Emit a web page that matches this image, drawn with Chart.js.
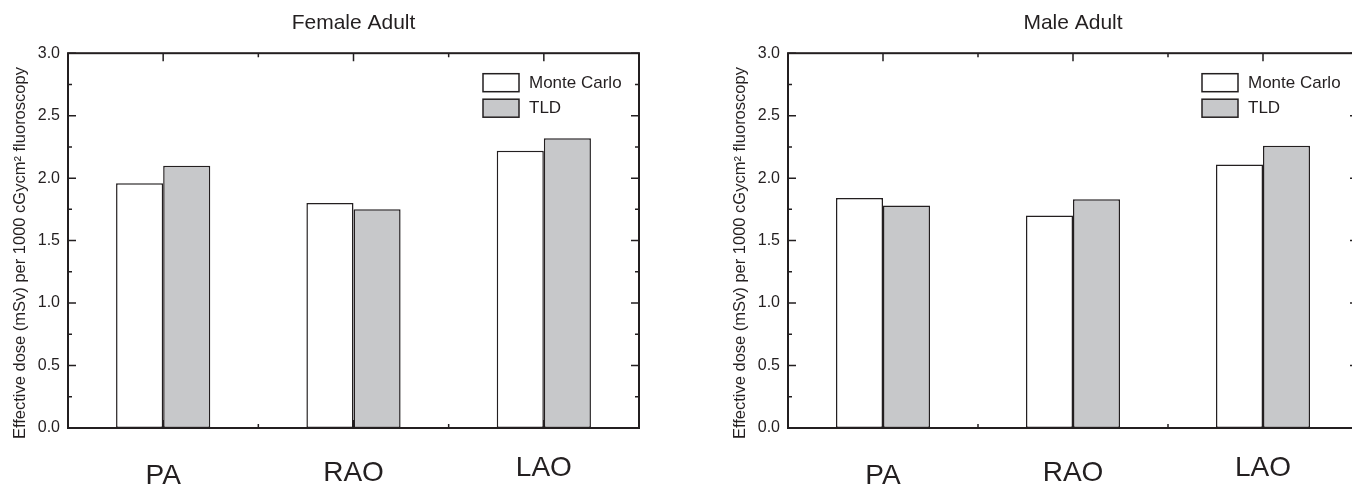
<!DOCTYPE html>
<html>
<head>
<meta charset="utf-8">
<script src="https://cdn.jsdelivr.net/npm/chart.js@4.4.1/dist/chart.umd.min.js"></script>
<style>
  html, body { margin: 0; padding: 0; background: #fff; overflow: hidden; width: 1352px; height: 486px; }
  .box { position: absolute; top: 0; height: 486px; }
  #femaleBox { left: 0; width: 676px; }
  #maleBox { left: 676px; width: 700px; }
</style>
</head>
<body>
<div class="box" id="femaleBox"><canvas id="chartFemale"></canvas></div>
<div class="box" id="maleBox"><canvas id="chartMale"></canvas></div>
<script>
// Datos
const categories = ["PA", "RAO", "LAO"];
const seriesNames = ["Monte Carlo", "TLD"];
const femaleMonteCarlo = [1.96, 1.80, 2.22];
const femaleTLD = [2.10, 1.75, 2.32];
const maleMonteCarlo = [1.84, 1.70, 2.11];
const maleTLD = [1.78, 1.83, 2.26];
const yMin = 0;
const yMax = 3;
const yStep = 0.5;
const yTitle = "Effective dose (mSv) per 1000 cGycm\u00B2 fluoroscopy";

const INK = "#231f20";
const GRAY = "#c7c8ca";
const FONT = "'Liberation Sans', Arial, sans-serif";

// desplazamiento vertical de cada etiqueta de categoría (como en la figura)
const labelDrop = [48, 45, 40];

function tickLine(ctx, x0, y0, x1, y1) {
    ctx.moveTo(x0, y0);
    ctx.lineTo(x1, y1);
}

// Marcas hacia adentro en los cuatro lados
function drawTicks(chart) {
    const { ctx, chartArea: a, scales: { x, y } } = chart;
    const major = 8, minor = 4;
    ctx.save();
    ctx.strokeStyle = INK;
    ctx.lineWidth = 1.5;
    ctx.beginPath();
    y.ticks.forEach((t, i) => {
        const py = y.getPixelForValue(t.value);
        tickLine(ctx, a.left, py, a.left + major, py);
        tickLine(ctx, a.right, py, a.right - major, py);
        if (i < y.ticks.length - 1) {
            const pm = y.getPixelForValue((t.value + y.ticks[i + 1].value) / 2);
            tickLine(ctx, a.left, pm, a.left + minor, pm);
            tickLine(ctx, a.right, pm, a.right - minor, pm);
        }
    });
    categories.forEach((c, i) => {
        const px = x.getPixelForValue(i);
        tickLine(ctx, px, a.top, px, a.top + major);
        tickLine(ctx, px, a.bottom, px, a.bottom - major);
        if (i > 0) {
            const pb = (x.getPixelForValue(i - 1) + px) / 2;
            tickLine(ctx, pb, a.top, pb, a.top + minor);
            tickLine(ctx, pb, a.bottom, pb, a.bottom - minor);
        }
    });
    ctx.stroke();
    ctx.restore();
}

function drawFrame(chart) {
    const { ctx, chartArea: a } = chart;
    ctx.save();
    ctx.strokeStyle = INK;
    ctx.lineWidth = 2;
    ctx.strokeRect(a.left, a.top, a.right - a.left, a.bottom - a.top);
    ctx.restore();
}

function drawLegend(chart) {
    const { ctx, chartArea: a } = chart;
    const bx = a.right - 156;
    const by = a.top + 20.5;
    ctx.save();
    chart.data.datasets.forEach((ds, i) => {
        const top = by + i * 25.5;
        ctx.fillStyle = ds.backgroundColor;
        ctx.fillRect(bx, top, 36, 18);
        ctx.strokeStyle = INK;
        ctx.lineWidth = 1.5;
        ctx.strokeRect(bx, top, 36, 18);
        ctx.fillStyle = INK;
        ctx.font = "17px " + FONT;
        ctx.textAlign = "left";
        ctx.textBaseline = "middle";
        ctx.fillText(ds.label, bx + 46, top + 9.5);
    });
    ctx.restore();
}

function drawCategoryLabels(chart) {
    const { ctx, chartArea: a, scales: { x } } = chart;
    ctx.save();
    ctx.fillStyle = INK;
    ctx.font = "28px " + FONT;
    ctx.textAlign = "center";
    ctx.textBaseline = "middle";
    categories.forEach((c, i) => {
        ctx.fillText(c, x.getPixelForValue(i), a.bottom + labelDrop[i]);
    });
    ctx.restore();
}

function drawYTitle(chart) {
    const { ctx, chartArea: a } = chart;
    ctx.save();
    ctx.translate(a.left - 47.5, (a.top + a.bottom) / 2 + 12.5);
    ctx.rotate(-Math.PI / 2);
    ctx.fillStyle = INK;
    ctx.font = "16.5px " + FONT;
    ctx.textAlign = "center";
    ctx.textBaseline = "middle";
    ctx.fillText(yTitle, 0, 0);
    ctx.restore();
}

const framePlugin = {
    id: "frame",
    beforeDatasetsDraw(chart) { drawTicks(chart); },
    afterDatasetsDraw(chart) {
        drawFrame(chart);
        drawLegend(chart);
        drawCategoryLabels(chart);
        drawYTitle(chart);
    }
};

function makeChart(canvasId, titulo, monteCarlo, tld, yWidth, padRight) {
    const ctx = document.getElementById(canvasId);
    return new Chart(ctx, {
        type: "bar",
        data: {
            labels: categories,
            datasets: [
                {
                    label: seriesNames[0],
                    data: monteCarlo,
                    backgroundColor: "#ffffff",
                    borderColor: INK,
                    borderWidth: 1.5,
                    borderSkipped: false
                },
                {
                    label: seriesNames[1],
                    data: tld,
                    backgroundColor: GRAY,
                    borderColor: INK,
                    borderWidth: 1.5,
                    borderSkipped: false
                }
            ]
        },
        options: {
            responsive: true,
            maintainAspectRatio: false,
            animation: false,
            categoryPercentage: 0.495,
            barPercentage: 1.0,
            layout: { padding: { top: 0, left: 0, bottom: 0, right: padRight } },
            plugins: {
                legend: { display: false },
                tooltip: { enabled: false },
                title: {
                    display: true,
                    text: titulo,
                    fullSize: false,
                    color: INK,
                    font: { family: FONT, size: 21, weight: "normal" },
                    padding: { top: 11, bottom: 17 }
                }
            },
            scales: {
                x: {
                    grid: { display: false },
                    border: { display: false },
                    ticks: { display: false },
                    afterFit(scale) { scale.height = 58; }
                },
                y: {
                    min: yMin,
                    max: yMax,
                    grid: { display: false, drawTicks: false },
                    border: { display: false },
                    ticks: {
                        stepSize: yStep,
                        padding: 8,
                        color: INK,
                        font: { family: FONT, size: 16 },
                        callback: v => Number(v).toFixed(1)
                    },
                    afterFit(scale) { scale.width = yWidth; }
                }
            }
        },
        plugins: [framePlugin]
    });
}

makeChart("chartFemale", "Female Adult", femaleMonteCarlo, femaleTLD, 68, 37);
makeChart("chartMale", "Male Adult", maleMonteCarlo, maleTLD, 112, 18);
</script>
</body>
</html>
